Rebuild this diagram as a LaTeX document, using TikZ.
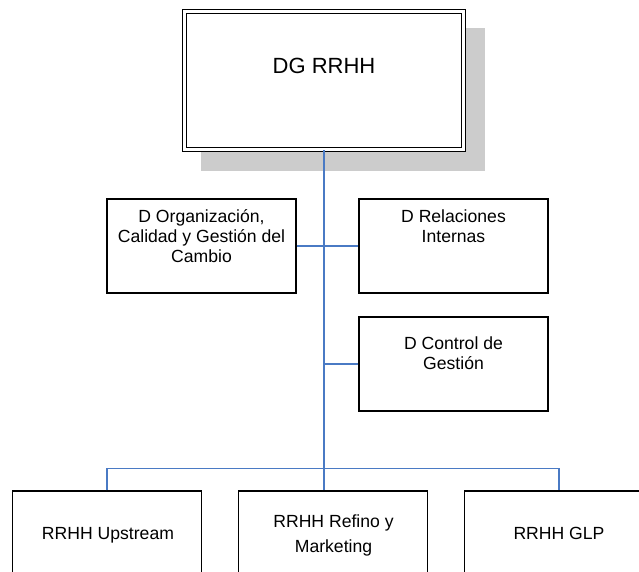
\documentclass[tikz,border=0pt]{standalone}
\usepackage{fontspec}
\setmainfont{Liberation Sans}
\definecolor{linkblue}{RGB}{74,122,196}
\definecolor{shadowgray}{RGB}{204,204,204}
\begin{document}
\begin{tikzpicture}[x=1pt,y=-1pt,
  unitbox/.style={draw=black,line width=1.1pt,fill=white,minimum width=189pt,inner sep=0pt},
  boxtext/.style={anchor=north,inner sep=0pt,align=center,font=\fontsize{17.6}{20}\selectfont},
  bottext/.style={anchor=north,inner sep=0pt,align=center,font=\fontsize{17.6}{25}\selectfont},
  link/.style={draw=linkblue,line width=1.1pt},
  trunk/.style={draw=linkblue,line width=1.8pt}]
\useasboundingbox (0,0) rectangle (639,572);
\clip (0,0) rectangle (639,572);

% head box with drop shadow and double frame
\fill[shadowgray] (201,28) rectangle (485,171);
\node[draw=black,fill=white,line width=1.2pt,double=white,double distance=2.4pt,
      minimum width=279pt,minimum height=138pt,inner sep=0pt] (head) at (324,80.5) {};
\node[anchor=north,inner sep=0pt,font=\fontsize{22}{26}\selectfont] (headtxt) at (324,58) {DG RRHH};

% second level
\node[unitbox,minimum height=94pt] (org) at (201.5,246) {};
\node[boxtext] (orgtxt) at (201.5,209.5) {D Organización,\\Calidad y Gestión del\\Cambio};
\node[unitbox,minimum height=94pt] (rel) at (453.5,246) {};
\node[boxtext] (reltxt) at (453.5,210) {D Relaciones\\Internas};
\node[unitbox,minimum height=94pt] (ctl) at (453.5,364) {};
\node[boxtext] (ctltxt) at (453.5,336.5) {D Control de\\Gestión};

% bottom level
\node[unitbox,minimum height=100pt] (up) at (107,541) {};
\node[bottext] (uptxt) at (108,527) {RRHH Upstream};
\node[unitbox,minimum height=100pt] (ref) at (333,541) {};
\node[bottext] (reftxt) at (333.5,515) {RRHH Refino y\\Marketing};
\node[unitbox,minimum height=100pt] (glp) at (559,541) {};
\node[bottext] (glptxt) at (559,527) {RRHH GLP};

% connectors
\coordinate (bus) at (head.south |- 0,468.5);
\draw[trunk] (head.south) -- (bus);
\draw[link] (org.east) -- (rel.west);
\draw[link] (ctl.west) -- (ctl.west -| head.south);
\draw[link] (up.north) |- (bus) -| (glp.north);
\draw[link] (bus) -- (bus |- ref.north);
\end{tikzpicture}
\end{document}
